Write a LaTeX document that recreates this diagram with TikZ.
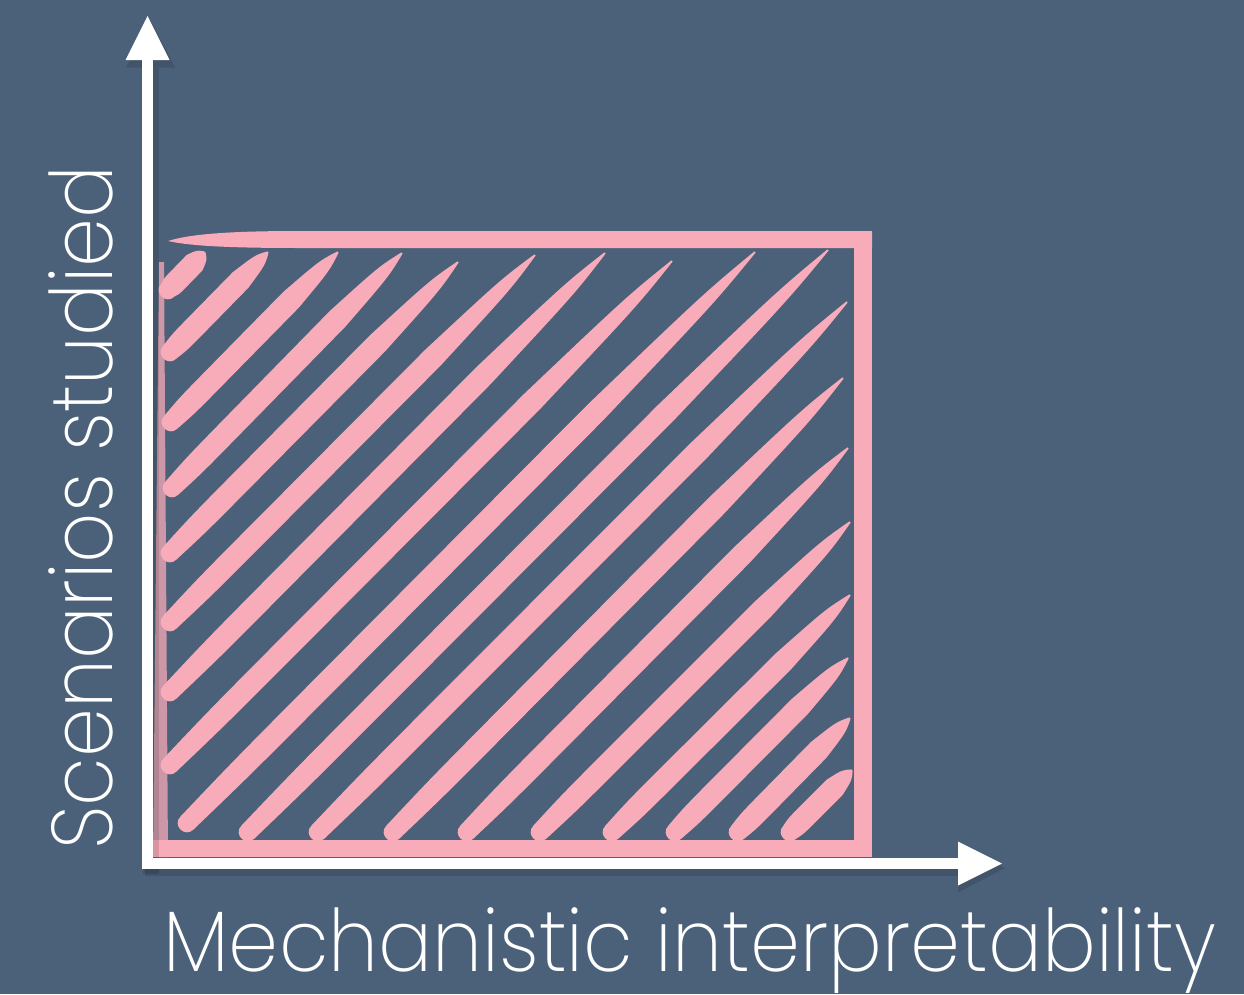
\documentclass[tikz,border=0pt]{standalone}
\usepackage{fontspec}
\setmainfont{Poppins}[UprightFont=* ExtraLight]
\usetikzlibrary{arrows.meta, calc}

\definecolor{slate}{HTML}{4B6079}
\definecolor{blush}{HTML}{F8ABB8}

% one hand-painted hatch stroke, start (x,y) to end (x,y) in px
\newcommand{\brushstroke}[4]{%
  \coordinate (s) at (#1,#2);
  \coordinate (e) at (#3,#4);
  \fill[hatch] ($(s)+(6.5,6.5)$)
    .. controls ($(s)!0.1!(e)+(7.8,7.8)$) .. ($(s)!0.3!(e)+(7.8,7.8)$)
    -- ($(s)!0.72!(e)+(7.8,7.8)$)
    .. controls ($(s)!0.92!(e)+(5,5)$) .. ($(e)+(0.6,0.6)$)
    -- ($(e)-(0.6,0.6)$)
    .. controls ($(s)!0.92!(e)-(5,5)$) .. ($(s)!0.72!(e)-(7.8,7.8)$)
    -- ($(s)!0.3!(e)-(7.8,7.8)$)
    .. controls ($(s)!0.1!(e)-(7.8,7.8)$) .. ($(s)-(6.5,6.5)$)
    .. controls ($(s)+(-15.2,2.2)$) and ($(s)+(-2.2,15.2)$) .. cycle;
}

\begin{document}
\begin{tikzpicture}[
  x=0.2mm, y=-0.2mm,
  hatch/.style={fill=blush},
  frame/.style={fill=blush},
  axis/.style={draw=white, line width=2.2mm,
    -{Triangle[length=8.8mm, width=8.8mm, line width=0pt]}},
  axisshadow/.style={draw=black, opacity=0.12, line width=3.2mm,
    -{Triangle[length=9.4mm, width=9.8mm, line width=0pt]},
    transform canvas={shift={(0.6mm,-0.9mm)}}},
  label/.style={text=white, font=\fontsize{49}{58}\selectfont, inner sep=0pt}
]
\useasboundingbox[fill=slate] (0,0) rectangle (1244,994);

% frame
\fill[frame] (168,241) .. controls (190,234) and (230,231) .. (300,231)
  -- (872,231) -- (872,248) -- (300,248)
  .. controls (230,248) and (190,246) .. cycle;
\fill[frame] (854,231) rectangle (872,857);
\fill[frame] (153,840) rectangle (872,857);
\fill[frame, opacity=0.75] (159,262) -- (164,262) -- (168,857) -- (153,857) -- cycle;

% hatching
\foreach \xa/\ya/\xb/\yb in {
  168/290/205/252, 170/352/268/252, 171/422/338/252, 172/488/402/253,
  170/553/458/262, 170/622/535/255, 170/692/605/253, 170/765/672/261,
  187/823/755/252, 248/832/828/250, 318/832/847/302, 393/832/843/378,
  467/832/848/448, 540/832/850/522, 612/832/850/595, 675/832/848/658,
  738/832/850/718, 790/832/852/770}
  {\brushstroke{\xa}{\ya}{\xb}{\yb}}

% axes
\coordinate (ybase) at (147.5,869);
\coordinate (ytip) at (147.5,16);
\coordinate (xbase) at (142,863.5);
\coordinate (xtip) at (1002,863.5);
\draw[axisshadow] (ybase) -- (ytip);
\draw[axisshadow] (xbase) -- (xtip);
\draw[axis] (ybase) -- (ytip);
\draw[axis] (xbase) -- (xtip);

% labels
\node[label, xscale=0.93, anchor=base west] (xlabel) at (163,971) {Mechanistic interpretability};
\node[label, rotate=90, xscale=0.91, anchor=base west] (ylabel) at (112,850) {Scenarios studied};
\end{tikzpicture}
\end{document}
